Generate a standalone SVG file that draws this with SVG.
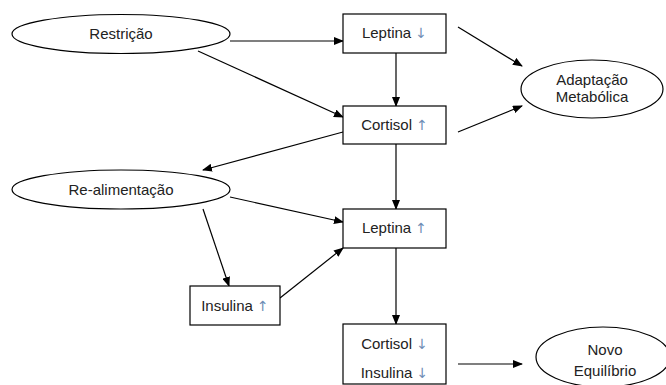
<svg xmlns="http://www.w3.org/2000/svg" width="666" height="385" viewBox="0 0 666 385">
<defs>
<marker id="ah" markerWidth="10" markerHeight="8" refX="9" refY="4" orient="auto" markerUnits="userSpaceOnUse">
<path d="M0,0 L10,4 L0,8 Z" fill="#000"/>
</marker>
<style>
.n{fill:#fff;stroke:#000;stroke-width:1.2}
.t{font-family:"Liberation Sans",Arial,sans-serif;font-size:15px;fill:#222;text-anchor:middle}
.a{fill:#6f8db5;font-family:"DejaVu Sans",sans-serif;font-size:14px}
.c{stroke:#000;stroke-width:1.2;fill:none;marker-end:url(#ah)}
</style>
</defs>
<g id="connectors">
<line class="c" x1="230" y1="41" x2="343" y2="41"/>
<line class="c" x1="198" y1="51" x2="343" y2="117"/>
<line class="c" x1="396" y1="53" x2="396" y2="106"/>
<line class="c" x1="458" y1="27" x2="522" y2="66"/>
<line class="c" x1="458" y1="132" x2="522" y2="106"/>
<line class="c" x1="343" y1="132" x2="203" y2="170"/>
<line class="c" x1="396" y1="144" x2="396" y2="209"/>
<line class="c" x1="230" y1="197" x2="343" y2="222"/>
<line class="c" x1="203" y1="209" x2="229" y2="286"/>
<line class="c" x1="280" y1="298" x2="343" y2="248"/>
<line class="c" x1="396" y1="248" x2="396" y2="324"/>
<line class="c" x1="458" y1="364" x2="522" y2="364"/>
</g>
<g id="restricao">
<ellipse class="n" cx="121" cy="34" rx="109" ry="19.5"/>
<text class="t" x="121" y="39">Restrição</text>
</g>
<g id="leptina-down">
<rect class="n" x="343" y="14" width="103" height="39"/>
<text class="t" x="394.5" y="38">Leptina <tspan class="a">↓</tspan></text>
</g>
<g id="cortisol-up">
<rect class="n" x="343" y="106" width="103" height="38"/>
<text class="t" x="394.5" y="130">Cortisol <tspan class="a">↑</tspan></text>
</g>
<g id="adaptacao">
<ellipse class="n" cx="592" cy="89" rx="71" ry="29"/>
<text class="t" x="592" y="85">Adaptação</text>
<text class="t" x="592" y="102">Metabólica</text>
</g>
<g id="re-alimentacao">
<ellipse class="n" cx="121" cy="189.5" rx="109" ry="19.5"/>
<text class="t" x="121" y="195">Re-alimentação</text>
</g>
<g id="leptina-up">
<rect class="n" x="343" y="209" width="103" height="39"/>
<text class="t" x="394.5" y="233">Leptina <tspan class="a">↑</tspan></text>
</g>
<g id="insulina-up">
<rect class="n" x="190" y="286" width="90" height="39"/>
<text class="t" x="235" y="311">Insulina <tspan class="a">↑</tspan></text>
</g>
<g id="cortisol-insulina-down">
<rect class="n" x="343" y="324" width="103" height="60"/>
<text class="t" x="394.5" y="349">Cortisol <tspan class="a">↓</tspan></text>
<text class="t" x="394.5" y="378">Insulina <tspan class="a">↓</tspan></text>
</g>
<g id="novo-equilibrio">
<ellipse class="n" cx="603" cy="357" rx="67" ry="30"/>
<text class="t" x="605" y="355">Novo</text>
<text class="t" x="605" y="376">Equilíbrio</text>
</g>
</svg>
